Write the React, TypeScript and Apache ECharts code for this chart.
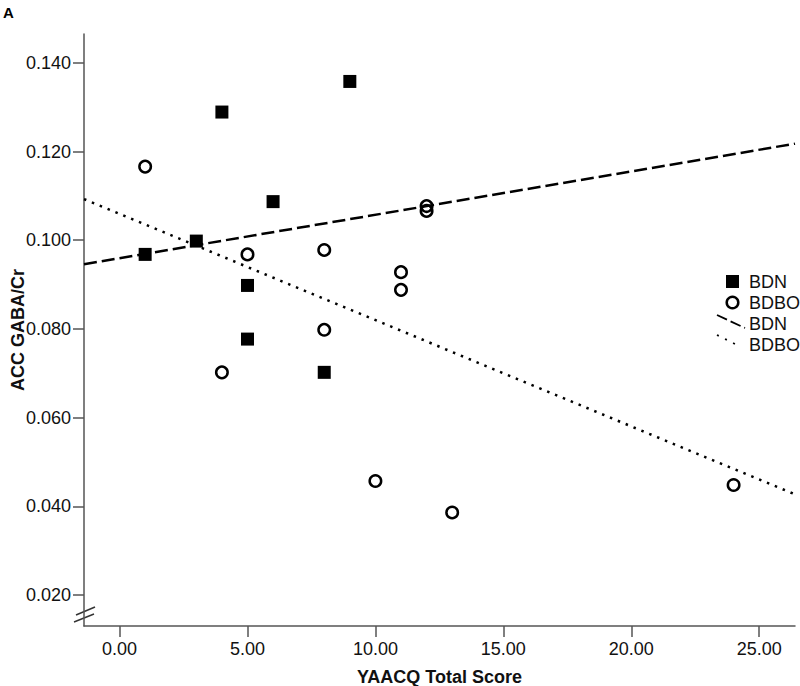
import React, { useEffect, useRef } from "react";
import * as echarts from "echarts";

// Data
const bdnPoints: [number, number][] = [
  [1, 0.0968], [3, 0.0998], [4, 0.1289], [5, 0.0898], [5, 0.0777], [6, 0.1087], [8, 0.0702], [9, 0.1358],
];
const bdboPoints: [number, number][] = [
  [1, 0.1166], [4, 0.0702], [5, 0.0968], [8, 0.0978], [8, 0.0798], [10, 0.0457],
  [11, 0.0928], [11, 0.0888], [12, 0.1077], [12, 0.1066], [13, 0.0386], [24, 0.0448],
];
const xTicks = [0, 5, 10, 15, 20, 25];
const yTicks = [0.02, 0.04, 0.06, 0.08, 0.1, 0.12, 0.14];
const xRange: [number, number] = [-1.39, 26.4];
const yRange: [number, number] = [0.013, 0.1465];
const seriesNames = ["BDN", "BDBO"];
const xName = "YAACQ Total Score";
const yName = "ACC GABA/Cr";
const panelLabel = "A";

function fitLine(pts: [number, number][]): [number, number][] {
  const n = pts.length;
  const mx = pts.reduce((s, p) => s + p[0], 0) / n;
  const my = pts.reduce((s, p) => s + p[1], 0) / n;
  let sxy = 0, sxx = 0;
  pts.forEach(([x, y]) => { sxy += (x - mx) * (y - my); sxx += (x - mx) * (x - mx); });
  const b = sxy / sxx;
  const a = my - b * mx;
  return [[xRange[0], a + b * xRange[0]], [xRange[1], a + b * xRange[1]]];
}

const FONT = "'Liberation Sans', Arial, Helvetica, sans-serif";

export default function App() {
  const ref = useRef<HTMLDivElement>(null);
  useEffect(() => {
    if (!ref.current) return;
    const chart = echarts.init(ref.current, undefined, { renderer: "svg" });
    const gridLeft = 84, gridTop = 34, gridRight = 5, gridBottom = 60;
    const axisBottom = 686 - gridBottom;
    const lx = 717, tx = 749;
    chart.setOption({
      animation: false,
      backgroundColor: "#ffffff",
      textStyle: { fontFamily: FONT },
      grid: {
        left: gridLeft, top: gridTop, right: gridRight, bottom: gridBottom,
        containLabel: false, outerBoundsMode: "none",
      },
      xAxis: {
        type: "value",
        min: xRange[0],
        max: xRange[1],
        name: xName,
        nameLocation: "middle",
        nameGap: 42,
        nameMoveOverlap: false,
        nameTextStyle: { fontSize: 18, fontWeight: "bold", color: "#111", fontFamily: FONT },
        splitLine: { show: false },
        axisLine: { show: true, onZero: false, lineStyle: { color: "#555", width: 1.5 } },
        axisTick: { show: true, length: 11, customValues: xTicks, lineStyle: { color: "#555", width: 1.5 } },
        axisLabel: {
          customValues: xTicks,
          margin: 14,
          fontSize: 18,
          color: "#111",
          fontFamily: FONT,
          formatter: (v: number) => v.toFixed(2),
        },
      },
      yAxis: {
        type: "value",
        min: yRange[0],
        max: yRange[1],
        name: yName,
        nameLocation: "middle",
        nameGap: 57,
        nameMoveOverlap: false,
        nameTextStyle: { fontSize: 18, fontWeight: "bold", color: "#111", fontFamily: FONT },
        splitLine: { show: false },
        axisLine: { show: true, onZero: false, lineStyle: { color: "#555", width: 1.5 } },
        axisTick: { show: true, length: 11, customValues: yTicks, lineStyle: { color: "#555", width: 1.5 } },
        axisLabel: {
          customValues: yTicks,
          margin: 13,
          fontSize: 18,
          color: "#111",
          fontFamily: FONT,
          formatter: (v: number) => v.toFixed(3),
        },
      },
      series: [
        {
          name: seriesNames[0],
          type: "scatter",
          symbol: "rect",
          symbolSize: 13,
          itemStyle: { color: "#000", opacity: 1 },
          data: bdnPoints,
          z: 3,
        },
        {
          name: seriesNames[1],
          type: "scatter",
          symbol: "circle",
          symbolSize: 11.5,
          itemStyle: { color: "transparent", borderColor: "#000", borderWidth: 2.5, opacity: 1 },
          data: bdboPoints,
          z: 3,
        },
        {
          name: seriesNames[0],
          type: "line",
          showSymbol: false,
          symbol: "none",
          data: fitLine(bdnPoints),
          lineStyle: { color: "#000", width: 2.5, type: [13, 5] },
          z: 2,
        },
        {
          name: seriesNames[1],
          type: "line",
          showSymbol: false,
          symbol: "none",
          data: fitLine(bdboPoints),
          lineStyle: { color: "#000", width: 2.5, type: [2.5, 6] },
          z: 2,
        },
      ],
      graphic: [
        {
          type: "text",
          left: 3,
          top: 5,
          style: { text: panelLabel, font: `bold 15px ${FONT}`, fill: "#000" },
        },
        // axis break marks
        {
          type: "line",
          shape: { x1: gridLeft - 10, y1: axisBottom - 4, x2: gridLeft + 10, y2: axisBottom - 12 },
          style: { stroke: "#333", lineWidth: 1.5 },
        },
        {
          type: "line",
          shape: { x1: gridLeft - 8, y1: axisBottom - 11, x2: gridLeft + 11, y2: axisBottom - 19 },
          style: { stroke: "#333", lineWidth: 1.5 },
        },
        // legend
        { type: "rect", shape: { x: 726, y: 275, width: 13, height: 13 }, style: { fill: "#000" } },
        { type: "circle", shape: { cx: 732.5, cy: 302.5, r: 5.8 }, style: { fill: "none", stroke: "#000", lineWidth: 2.5 } },
        {
          type: "line",
          shape: { x1: lx, y1: 315, x2: 745, y2: 328 },
          style: { stroke: "#000", lineWidth: 1.8, lineDash: [11, 4] },
        },
        {
          type: "line",
          shape: { x1: lx, y1: 335, x2: 741, y2: 347 },
          style: { stroke: "#000", lineWidth: 1.8, lineDash: [2, 7] },
        },
        { type: "text", x: tx, y: 282, style: { text: seriesNames[0], font: `18px ${FONT}`, fill: "#111", verticalAlign: "middle" } },
        { type: "text", x: tx, y: 303, style: { text: seriesNames[1], font: `18px ${FONT}`, fill: "#111", verticalAlign: "middle" } },
        { type: "text", x: tx, y: 324, style: { text: seriesNames[0], font: `18px ${FONT}`, fill: "#111", verticalAlign: "middle" } },
        { type: "text", x: tx, y: 345, style: { text: seriesNames[1], font: `18px ${FONT}`, fill: "#111", verticalAlign: "middle" } },
      ],
    });
    return () => chart.dispose();
  }, []);
  return (
    <div
      ref={ref}
      style={{ position: "fixed", left: 0, top: 0, width: 800, height: 686, background: "#fff" }}
    />
  );
}
